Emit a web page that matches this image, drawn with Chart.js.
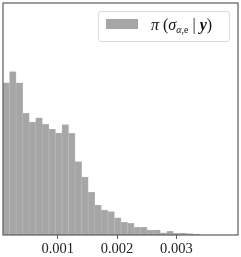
<!DOCTYPE html>
<html>
<head>
<meta charset="utf-8">
<script src="https://cdn.jsdelivr.net/npm/chart.js@4"></script>
<style>
  html, body { margin: 0; padding: 0; background: #fff; }
  #wrap { position: relative; width: 241px; height: 257px; }
  #legend {
    position: absolute; left: 98px; top: 11px; width: 130px; height: 29px;
    border: 1px solid #dcdcdc; border-radius: 3px; background: rgba(255,255,255,0.85);
    font-family: 'Liberation Serif', serif; font-size: 16px; color: #111;
  }
  #legend .patch { position: absolute; left: 7px; top: 7px; width: 32px; height: 10px; }
  #legend .label { position: absolute; left: 52px; top: 5px; white-space: nowrap; line-height: 16px; }
  #legend sub { font-size: 10px; vertical-align: -3px; }
</style>
</head>
<body>
<div id="wrap">
  <canvas id="histChart" width="241" height="257"></canvas>
  <div id="legend"></div>
</div>
<script>
// bin centres of the posterior histogram
const binCenters = [
    0.0001329, 0.0002434, 0.0003539, 0.0004644, 0.0005749, 0.0006854,
    0.0007959, 0.0009064, 0.0010169, 0.0011274, 0.0012379, 0.0013484,
    0.0014589, 0.0015694, 0.0016799, 0.0017904, 0.0019009, 0.0020114,
    0.0021219, 0.0022324, 0.0023429, 0.0024534, 0.0025639, 0.0026744,
    0.0027849, 0.0028954, 0.0030059, 0.0031164, 0.0032269, 0.0033374
];
// density per bin
const densities = [
    822, 882, 822, 657, 610, 633, 598, 572, 551, 596,
    549, 396, 313, 231, 162, 135, 126, 93, 69, 63,
    42, 42, 27, 27, 12, 20, 9, 11, 7, 5
];
const tickValues = [0.001, 0.002, 0.003];
const seriesLabel = 'π (σα,e | y)';

const barColor = '#a6a6a6';

// axes box drawn around the plot area
const frame = {
    id: 'frame',
    afterDraw(chart) {
        const { ctx, chartArea: a } = chart;
        ctx.save();
        ctx.strokeStyle = '#5c5c5c';
        ctx.lineWidth = 1.2;
        ctx.strokeRect(a.left, a.top, a.right - a.left, a.bottom - a.top);
        ctx.restore();
    }
};

const chart = new Chart(document.getElementById('histChart'), {
    type: 'bar',
    data: {
        datasets: [{
            label: seriesLabel,
            data: binCenters.map((x, i) => ({ x: x, y: densities[i] })),
            backgroundColor: barColor,
            borderColor: '#bababa',
            borderWidth: 0.6,
            borderSkipped: 'start',
            barPercentage: 1,
            categoryPercentage: 1
        }]
    },
    options: {
        responsive: false,
        animation: false,
        layout: { padding: { top: 3, right: 3, left: 0, bottom: 0 } },
        plugins: {
            legend: { display: false },
            tooltip: { enabled: false }
        },
        scales: {
            x: {
                type: 'linear',
                offset: false,
                min: 0.0000776,
                max: 0.00404,
                afterBuildTicks: (axis) => { axis.ticks = tickValues.map(v => ({ value: v })); },
                afterFit: (axis) => { axis.height = 22; },
                grid: {
                    display: true,
                    offset: false,
                    drawOnChartArea: false,
                    drawTicks: true,
                    tickLength: 4,
                    color: '#5c5c5c'
                },
                border: { display: false },
                ticks: {
                    autoSkip: false,
                    maxRotation: 0,
                    padding: 1,
                    color: '#222',
                    font: { family: 'Liberation Serif', size: 14.5 },
                    callback: (v) => v.toFixed(3)
                }
            },
            y: {
                min: 0,
                max: 1253,
                afterFit: (axis) => { axis.width = 3; },
                grid: { display: false },
                border: { display: false },
                ticks: { display: false }
            }
        }
    },
    plugins: [frame]
});

// html legend so the subscript can be real text
const legendEl = document.getElementById('legend');
legendEl.innerHTML =
    '<span class="patch" style="background:' + chart.data.datasets[0].backgroundColor + '"></span>' +
    '<span class="label"><i>π</i> (<i>σ</i><sub><i>α</i>,e</sub> | <b><i>y</i></b>)</span>';
</script>
</body>
</html>
